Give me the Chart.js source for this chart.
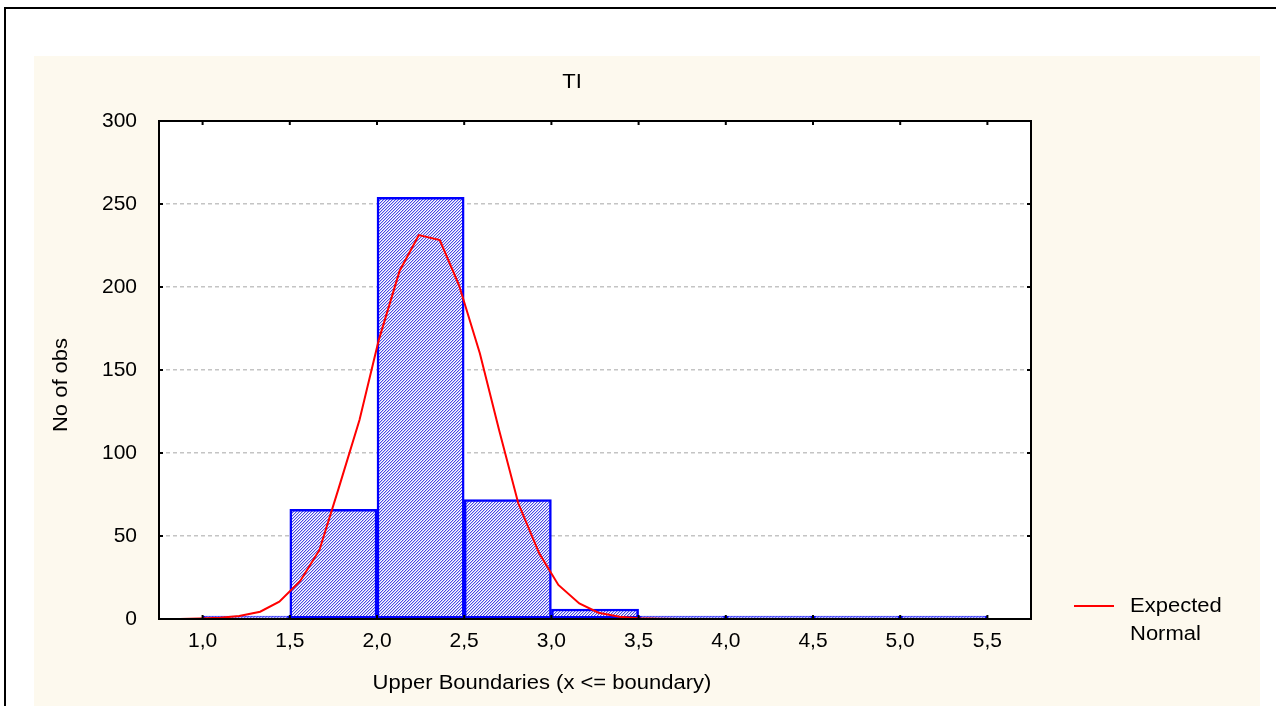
<!DOCTYPE html>
<html>
<head>
  <title>TI</title>
  <script src="https://cdn.jsdelivr.net/npm/chart.js"></script>
  <style>
    body { margin: 0; background: #fff; }
    .chart-container { width: 1276px; height: 706px; }
  </style>
</head>
<body>
  <div class="chart-container"><canvas id="chartTI"></canvas></div>
  <script>
    // histogram bins (upper boundary of each bin) and observed counts
    const upperBoundaries = [1.5, 2.0, 2.5, 3.0, 3.5, 4.0, 4.5, 5.0, 5.5];
    const counts = [0, 66, 254, 72, 6, 0, 0, 0, 0];
    const binWidth = 0.5;

    // expected normal curve
    const normalX = [0.87, 0.98, 1.10, 1.21, 1.33, 1.44, 1.56, 1.67, 1.78, 1.90, 2.01, 2.13,
                     2.24, 2.36, 2.47, 2.59, 2.70, 2.81, 2.93, 3.04, 3.16, 3.27, 3.39, 3.50, 3.61, 3.73];
    const normalY = [0, 0.3, 0.8, 1.8, 4.4, 10.4, 22.9, 41.6, 78.7, 120, 168, 209.8,
                     231.3, 228.3, 201.2, 160, 113.9, 69.7, 39.6, 20.5, 9.4, 3.8, 1.4, 0.4, 0.1, 0];

    const xTicks = [1.0, 1.5, 2.0, 2.5, 3.0, 3.5, 4.0, 4.5, 5.0, 5.5];
    const yTicks = [0, 50, 100, 150, 200, 250, 300];

    const FONT = '"Liberation Sans", Arial, sans-serif';

    function hatchPattern() {
      const c = document.createElement('canvas');
      c.width = 3; c.height = 3;
      const g = c.getContext('2d');
      g.fillStyle = '#ffffff';
      g.fillRect(0, 0, 3, 3);
      for (let i = 0; i < 3; i++) {
        for (let j = 0; j < 3; j++) {
          const k = (i + j) % 3;
          if (k === 0) { g.fillStyle = '#4848e6'; g.fillRect(i, j, 1, 1); }
          else if (k === 1) { g.fillStyle = '#c4c4f6'; g.fillRect(i, j, 1, 1); }
        }
      }
      return g.createPattern(c, 'repeat');
    }

    // text stretched a little sideways, like the original export
    function wideText(ctx, text, x, y, rot) {
      ctx.save();
      ctx.translate(x, y);
      if (rot) ctx.rotate(rot);
      ctx.scale(1.1, 1);
      ctx.fillText(text, 0, 0);
      ctx.restore();
    }

    const frame = {
      id: 'frame',
      beforeDraw(chart) {
        const { ctx, chartArea: a } = chart;
        ctx.save();
        ctx.fillStyle = '#ffffff';
        ctx.fillRect(0, 0, chart.width, chart.height);
        ctx.strokeStyle = '#000';
        ctx.lineWidth = 2;
        ctx.beginPath();
        ctx.moveTo(5, chart.height);
        ctx.lineTo(5, 8);
        ctx.lineTo(chart.width, 8);
        ctx.stroke();
        ctx.fillStyle = '#fdf9ee';
        ctx.fillRect(34, 56, 1226, chart.height - 56);
        ctx.fillStyle = '#ffffff';
        ctx.fillRect(a.left, a.top, a.right - a.left, a.bottom - a.top);
        ctx.restore();
      },
      afterDraw(chart) {
        const { ctx, chartArea: a, scales: { x, y } } = chart;
        ctx.save();
        ctx.strokeStyle = '#000';
        ctx.lineWidth = 2;
        ctx.strokeRect(a.left, a.top, a.right - a.left, a.bottom - a.top);
        ctx.beginPath();
        xTicks.forEach(v => {
          const px = x.getPixelForValue(v);
          ctx.moveTo(px, a.bottom); ctx.lineTo(px, a.bottom - 4);
          ctx.moveTo(px, a.top); ctx.lineTo(px, a.top + 4);
        });
        yTicks.forEach(v => {
          const py = y.getPixelForValue(v);
          ctx.moveTo(a.left, py); ctx.lineTo(a.left + 4, py);
          ctx.moveTo(a.right, py); ctx.lineTo(a.right - 4, py);
        });
        ctx.stroke();

        ctx.fillStyle = '#000';
        ctx.font = '20px ' + FONT;
        ctx.textAlign = 'center';
        ctx.textBaseline = 'middle';
        wideText(ctx, 'TI', 572, 82);
        wideText(ctx, 'Upper Boundaries (x <= boundary)', 542, 683);
        wideText(ctx, 'No of obs', 61, 385, -Math.PI / 2);

        // legend
        ctx.strokeStyle = '#ff0000';
        ctx.lineWidth = 2;
        ctx.beginPath();
        ctx.moveTo(1074, 606);
        ctx.lineTo(1114, 606);
        ctx.stroke();
        ctx.textAlign = 'left';
        wideText(ctx, 'Expected', 1130, 606);
        wideText(ctx, 'Normal', 1130, 634);
        ctx.restore();
      }
    };

    const ctx = document.getElementById('chartTI').getContext('2d');
    new Chart(ctx, {
      data: {
        datasets: [{
          type: 'line',
          label: 'Expected Normal',
          order: 0,
          data: normalX.map((v, i) => ({ x: v, y: normalY[i] })),
          borderColor: '#ff0000',
          borderWidth: 2,
          pointRadius: 0,
          tension: 0,
          fill: false
        }, {
          type: 'bar',
          label: 'TI',
          order: 1,
          data: upperBoundaries.map((u, i) => ({ x: u - binWidth / 2, y: counts[i] })),
          backgroundColor: hatchPattern(),
          borderColor: '#0000ff',
          borderWidth: 2.5,
          borderSkipped: false,
          minBarLength: 3,
          barPercentage: 1,
          categoryPercentage: 1
        }]
      },
      options: {
        responsive: true,
        maintainAspectRatio: false,
        animation: false,
        layout: { padding: { left: 34, top: 121, right: 245, bottom: 27 } },
        plugins: {
          legend: { display: false },
          title: { display: false },
          tooltip: { enabled: false }
        },
        scales: {
          x: {
            type: 'linear',
            offset: false,
            min: 0.75,
            max: 5.75,
            afterFit: s => { s.height = 60; },
            afterBuildTicks: s => { s.ticks = xTicks.map(v => ({ value: v })); },
            grid: { display: false, drawTicks: false, offset: false },
            border: { display: false },
            ticks: {
              padding: 10,
              color: '#000',
              autoSkip: false,
              maxRotation: 0,
              font: { family: FONT, size: 21 },
              callback: v => Number(v).toFixed(1).replace('.', ',')
            }
          },
          y: {
            min: 0,
            max: 300,
            afterFit: s => { s.width = 125; },
            afterBuildTicks: s => { s.ticks = yTicks.map(v => ({ value: v })); },
            grid: { color: '#c4c4c4', lineWidth: 1.5, drawTicks: false },
            border: { display: false, dash: [4, 3] },
            ticks: {
              padding: 22,
              color: '#000',
              font: { family: FONT, size: 21 }
            }
          }
        }
      },
      plugins: [frame]
    });
  </script>
</body>
</html>
